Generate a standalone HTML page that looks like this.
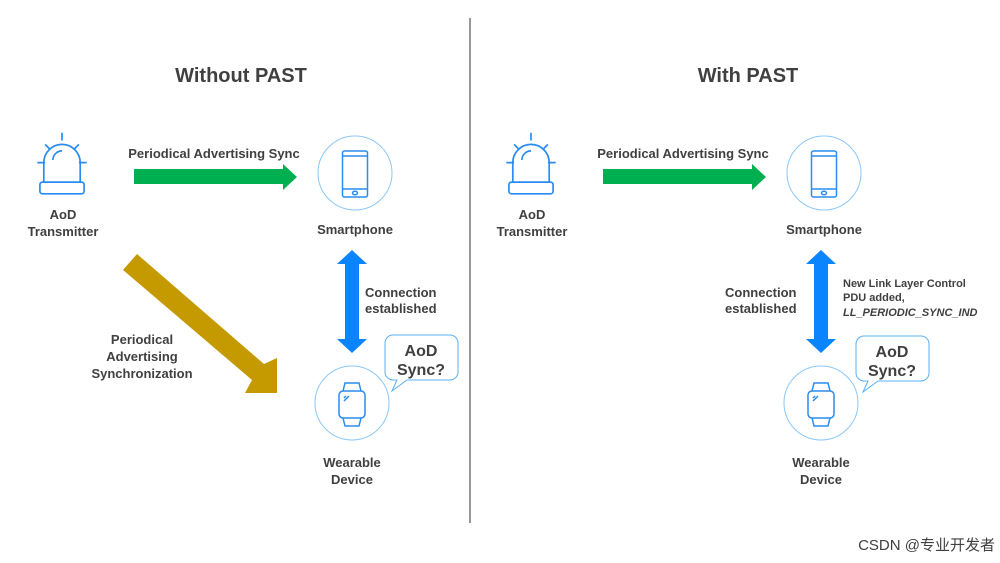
<!DOCTYPE html>
<html><head><meta charset="utf-8"><style>
body{margin:0;background:#fff}
svg{display:block}
text{font-family:"Liberation Sans",Arial,sans-serif;font-weight:bold;fill:#404040}
</style></head><body>
<svg width="1000" height="563" viewBox="0 0 1000 563" xmlns="http://www.w3.org/2000/svg">
<defs>
<g id="siren" fill="none" stroke="#2a8cf0" stroke-width="1.3">
<g transform="scale(1.3)">
<path d="M-14,17 V2 A14,14 0 0 1 14,2 V17"/>
<path d="M-7,0 A7,7 0 0 1 0,-7"/>
<rect x="-17" y="17" width="34" height="9" rx="2"/>
<path d="M0,-21 V-15 M-19,2 H-13 M13,2 H19 M-13,-12 L-9,-8 M13,-12 L9,-8"/>
</g>
</g>
<g id="phone" fill="none" stroke="#2a8cf0" stroke-width="1.5">
<rect x="-12.5" y="-23" width="25" height="46" rx="2"/>
<path d="M-12.5,-18 H12.5 M-12.5,15 H12.5"/>
<ellipse cx="0" cy="19" rx="2.5" ry="1.8"/>
</g>
<g id="watch" fill="none" stroke="#2a8cf0" stroke-width="1.5">
<rect x="-13" y="-13" width="26" height="27" rx="4"/>
<path d="M-9,-13 L-7,-21 H7 L9,-13 M-9,14 L-7,22 H7 L9,14"/>
<path d="M-8,-6 L-6,-8 M-8,-3 L-3,-8"/>
</g>
<g id="bubble" fill="#fff" stroke="#5ab0f5" stroke-width="1">
<path d="M8,0 H65 A8,8 0 0 1 73,8 V37 A8,8 0 0 1 65,45 H22 L7,56 L12,45 H8 A8,8 0 0 1 0,37 V8 A8,8 0 0 1 8,0 Z"/>
</g>
</defs>

<line x1="470" y1="18" x2="470" y2="523" stroke="#555" stroke-width="1.2"/>

<!-- LEFT -->
<text x="241" y="82" font-size="20" text-anchor="middle" fill="#333">Without PAST</text>
<use href="#siren" x="62" y="160"/>
<text x="63" y="219" font-size="13" text-anchor="middle">AoD</text>
<text x="63" y="236" font-size="13" text-anchor="middle">Transmitter</text>
<text x="214" y="158" font-size="13" text-anchor="middle">Periodical Advertising Sync</text>
<polygon points="134,169 283,169 283,164 297,177 283,190 283,184 134,184" fill="#00b050"/>
<circle cx="355" cy="173" r="37" fill="none" stroke="#8cc8f8" stroke-width="1"/>
<use href="#phone" x="355" y="174"/>
<text x="355" y="234" font-size="13" text-anchor="middle">Smartphone</text>
<polygon points="352,250 367,264 359,264 359,339 367,339 352,353 337,339 345,339 345,264 337,264" fill="#0a84ff"/>
<text x="365" y="297" font-size="13">Connection</text>
<text x="365" y="313" font-size="13">established</text>
<polygon points="137,254 264,364 277,358 277,393 245,393 252,380 123,270" fill="#c49a00"/>
<text x="142" y="344" font-size="13" text-anchor="middle">Periodical</text>
<text x="142" y="361" font-size="13" text-anchor="middle">Advertising</text>
<text x="142" y="378" font-size="13" text-anchor="middle">Synchronization</text>
<circle cx="352" cy="403" r="37" fill="none" stroke="#8cc8f8" stroke-width="1"/>
<use href="#watch" x="352" y="404"/>
<use href="#bubble" x="385" y="335"/>
<text x="421" y="356" font-size="16" text-anchor="middle">AoD</text>
<text x="421" y="375" font-size="16" text-anchor="middle">Sync?</text>
<text x="352" y="467" font-size="13" text-anchor="middle">Wearable</text>
<text x="352" y="484" font-size="13" text-anchor="middle">Device</text>

<!-- RIGHT -->
<text x="748" y="82" font-size="20" text-anchor="middle" fill="#333">With PAST</text>
<use href="#siren" x="531" y="160"/>
<text x="532" y="219" font-size="13" text-anchor="middle">AoD</text>
<text x="532" y="236" font-size="13" text-anchor="middle">Transmitter</text>
<text x="683" y="158" font-size="13" text-anchor="middle">Periodical Advertising Sync</text>
<polygon points="603,169 752,169 752,164 766,177 752,190 752,184 603,184" fill="#00b050"/>
<circle cx="824" cy="173" r="37" fill="none" stroke="#8cc8f8" stroke-width="1"/>
<use href="#phone" x="824" y="174"/>
<text x="824" y="234" font-size="13" text-anchor="middle">Smartphone</text>
<polygon points="821,250 836,264 828,264 828,339 836,339 821,353 806,339 814,339 814,264 806,264" fill="#0a84ff"/>
<text x="725" y="297" font-size="13">Connection</text>
<text x="725" y="313" font-size="13">established</text>
<text x="843" y="287" font-size="11">New Link Layer Control</text>
<text x="843" y="301" font-size="11">PDU added,</text>
<text x="843" y="316" font-size="11" font-style="italic" fill="#111">LL_PERIODIC_SYNC_IND</text>
<circle cx="821" cy="403" r="37" fill="none" stroke="#8cc8f8" stroke-width="1"/>
<use href="#watch" x="821" y="404"/>
<use href="#bubble" x="856" y="336"/>
<text x="892" y="357" font-size="16" text-anchor="middle">AoD</text>
<text x="892" y="376" font-size="16" text-anchor="middle">Sync?</text>
<text x="821" y="467" font-size="13" text-anchor="middle">Wearable</text>
<text x="821" y="484" font-size="13" text-anchor="middle">Device</text>

<text x="995" y="550" font-size="15" text-anchor="end" style="font-weight:normal;font-family:'Liberation Sans','Noto Sans CJK SC',sans-serif" fill="#aaa">CSDN @专业开发者</text>
</svg>
</body></html>
